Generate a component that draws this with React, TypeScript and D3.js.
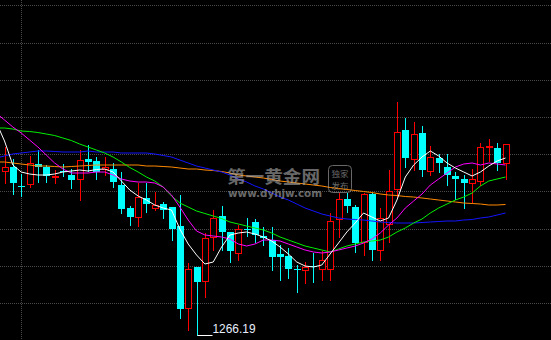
import React from "react";
import * as d3 from "d3";

// ---- data ----
const opens = [1282.59,1282.99,1281.09,1281.29,1283.29,1282.99,1281.99,1282.59,1282.19,1281.79,
1283.79,1283.59,1282.79,1282.79,1281.19,1278.89,1277.99,1279.89,1278.89,1279.29,
1278.99,1277.09,1268.89,1272.99,1271.59,1275.99,1278.09,1276.49,1274.39,1276.79,
1277.49,1276.09,1275.69,1274.29,1274.09,1272.79,1272.69,1273.09,1272.79,1272.79,
1277.79,1279.79,1278.99,1275.49,1280.29,1274.69,1277.29,1280.79,1286.69,1283.79,
1286.39,1282.59,1283.89,1282.99,1282.09,1281.79,1281.39,1281.59,1284.99,1284.89,
1283.39];
const highs = [1284.99,1283.79,1282.29,1284.09,1284.69,1283.19,1282.69,1283.29,1282.79,1284.69,
1285.19,1283.99,1283.99,1283.39,1282.49,1279.09,1281.39,1281.39,1280.49,1279.49,
1278.99,1280.19,1273.39,1272.99,1276.39,1278.69,1279.09,1276.49,1277.19,1277.89,
1277.79,1276.99,1276.99,1275.19,1274.89,1273.19,1273.49,1274.39,1274.59,1278.39,
1280.39,1280.39,1279.19,1280.39,1280.39,1278.89,1282.69,1289.49,1287.89,1287.49,
1287.09,1285.09,1284.29,1284.29,1282.49,1282.19,1282.79,1285.39,1285.79,1285.39,
1285.19];
const lows = [1281.39,1280.29,1280.09,1280.99,1281.49,1281.49,1281.39,1282.09,1280.89,1279.69,
1282.59,1281.79,1282.19,1280.99,1278.39,1277.19,1277.09,1278.49,1278.69,1277.89,
1275.69,1267.89,1266.69,1266.19,1269.99,1274.69,1274.69,1273.49,1273.69,1276.09,
1275.49,1275.19,1272.69,1271.69,1271.89,1270.49,1271.39,1271.49,1271.69,1271.69,
1275.99,1278.49,1274.49,1274.19,1273.69,1273.69,1275.49,1279.99,1282.99,1282.69,
1282.09,1282.19,1282.49,1281.19,1279.79,1278.89,1279.49,1281.19,1283.59,1282.69,
1281.79];
const closes = [1282.99,1281.39,1280.99,1283.39,1282.99,1282.09,1282.09,1282.49,1281.69,1283.69,
1283.49,1282.49,1282.99,1281.49,1278.79,1277.99,1279.99,1279.29,1279.19,1278.69,
1276.79,1268.79,1272.79,1271.49,1275.89,1277.89,1276.49,1274.59,1276.79,1276.69,
1276.19,1275.89,1273.99,1273.99,1272.79,1272.69,1272.99,1272.99,1273.69,1277.59,
1279.79,1279.09,1275.39,1280.29,1274.69,1277.89,1280.59,1286.49,1283.89,1286.29,
1282.69,1283.99,1283.39,1282.19,1281.79,1281.39,1281.79,1284.99,1285.09,1283.39,
1285.29];

// moving averages, first value belongs to candle index -1
const maStart = -1;
const maWhite = [1287.49,1285.59,1283.19,1282.49,1282.29,1282.19,1282.19,1282.29,1282.49,1282.59,1282.69,
1282.59,1282.74,1282.79,1282.49,1281.59,1280.69,1280.09,1279.69,1279.19,1278.89,
1278.69,1276.79,1275.29,1274.19,1273.29,1273.49,1274.99,1276.19,1276.39,1276.49,
1276.29,1275.99,1275.59,1274.99,1274.29,1273.49,1273.09,1272.99,1273.19,1274.29,
1275.39,1276.49,1277.39,1278.39,1277.99,1277.59,1277.89,1279.69,1281.99,1283.19,
1283.99,1284.59,1284.09,1283.39,1282.89,1282.49,1282.09,1282.49,1283.09,1283.59,
1283.89];
const maMagenta = [1288.39,1287.69,1286.99,1286.39,1285.69,1284.99,1284.19,1283.39,1282.79,1282.39,1282.39,
1282.39,1282.49,1282.49,1282.19,1281.79,1281.59,1281.49,1281.49,1281.39,1280.99,
1280.19,1278.99,1277.69,1276.59,1276.19,1276.09,1275.99,1275.79,1275.29,1275.09,
1275.29,1275.69,1275.69,1275.59,1275.29,1274.99,1274.69,1274.49,1274.39,1274.49,
1274.69,1274.89,1275.09,1275.39,1275.79,1276.39,1277.19,1277.89,1278.89,1279.59,
1280.29,1281.19,1281.79,1282.39,1282.99,1283.29,1283.39,1283.19,1283.39,1283.29,
1283.19];
const maGreen = [1286.89,1286.89,1286.79,1286.59,1286.54,1286.44,1286.29,1286.14,1285.89,1285.64,1285.29,
1284.99,1284.69,1284.39,1283.99,1283.49,1282.94,1282.49,1281.99,1281.59,1280.99,
1280.09,1279.39,1278.99,1278.59,1278.34,1278.09,1277.84,1277.49,1277.29,1277.09,
1276.89,1276.69,1276.39,1275.99,1275.69,1275.39,1275.09,1274.89,1274.69,1274.49,
1274.79,1275.09,1275.29,1275.49,1275.59,1275.69,1275.99,1276.49,1276.89,1277.39,
1277.79,1278.39,1278.89,1279.29,1279.69,1279.99,1280.39,1281.09,1281.59,1281.79,
1281.99];
const maBlue = [1283.89,1284.09,1284.29,1284.39,1284.49,1284.59,1284.59,1284.54,1284.49,1284.49,1284.49,
1284.59,1284.49,1284.49,1284.49,1284.39,1284.39,1284.39,1284.39,1284.29,1284.14,
1283.99,1283.69,1283.39,1283.09,1282.89,1282.69,1282.49,1282.19,1281.79,1281.49,
1281.09,1280.79,1280.39,1279.99,1279.69,1279.29,1278.89,1278.59,1278.29,1278.09,
1277.89,1277.79,1277.74,1277.69,1277.59,1277.49,1277.44,1277.39,1277.39,1277.39,
1277.44,1277.49,1277.54,1277.59,1277.59,1277.69,1277.74,1277.89,1277.99,1278.19,
1278.39];
const maOrange = [1283.49,1283.49,1283.39,1283.29,1283.19,1283.09,1283.09,1283.04,1282.99,1283.04,1283.09,
1283.14,1283.19,1283.19,1283.19,1283.19,1283.19,1283.19,1283.09,1283.09,1283.04,
1282.99,1282.89,1282.79,1282.79,1282.69,1282.64,1282.54,1282.39,1282.19,1282.09,
1281.99,1281.89,1281.74,1281.59,1281.49,1281.39,1281.29,1281.19,1281.09,1280.94,
1280.84,1280.74,1280.64,1280.54,1280.44,1280.29,1280.19,1280.14,1280.04,1279.99,
1279.89,1279.79,1279.69,1279.59,1279.49,1279.39,1279.34,1279.29,1279.19,1279.19,
1279.24];

const lowLabel = "1266.19";
const watermarkMain = "第一黄金网";
const watermarkUrl = "www.dyhjw.com";
const watermarkBadge = ["独家", "发布"];
const separatorIndex = 2;

const W = 551;
const H = 340;
const UP = "#ff0000";
const DOWN = "#00ffff";

export default function App() {
  const n = closes.length;
  const x = d3.scaleLinear().domain([0, n - 1]).range([4.5, 505.5]);
  const y = d3.scaleLinear().domain([1266.19, 1296.19]).range([335, 35]);

  const mkLine = (vals: number[]) =>
    d3
      .line<number>()
      .x((_, i) => x(i + maStart))
      .y((v) => y(v))(vals) as string;

  const lines = [
    { vals: maOrange, color: "#ff8a00" },
    { vals: maBlue, color: "#1414ff" },
    { vals: maGreen, color: "#00f000" },
    { vals: maMagenta, color: "#ff00ff" },
    { vals: maWhite, color: "#ffffff" },
  ];

  const gridY = d3.range(9).map((k) => Math.round(5.3 + 37.2 * k) + 0.5);
  const sepX = Math.round(x(separatorIndex)) + 0.5;

  const lowIdx = d3.minIndex(lows);
  const lowX = Math.round(x(lowIdx)) + 0.5;
  const lowY = Math.round(y(lows[lowIdx]));

  return (
    <svg
      width={W}
      height={H}
      style={{ position: "fixed", left: 0, top: 0, background: "#000", display: "block" }}
    >
      <rect x={0} y={0} width={W} height={H} fill="#000" />
      <g stroke="#4a4a4a" strokeWidth={1} strokeDasharray="1 1">
        {gridY.map((gy, k) => (
          <line key={k} x1={0} x2={W} y1={gy} y2={gy} />
        ))}
        <line x1={sepX} x2={sepX} y1={0} y2={H} />
      </g>

      <g>
        {closes.map((c, i) => {
          const o = opens[i];
          const up = c >= o;
          const cx = Math.round(x(i));
          const top = Math.round(y(Math.max(o, c)));
          const bot = Math.round(y(Math.min(o, c)));
          const hy = Math.round(y(highs[i]));
          const ly = Math.round(y(lows[i]));
          const col = up ? UP : DOWN;
          if (up) {
            return (
              <g key={i} stroke={col} strokeWidth={1}>
                {hy < top && <line x1={cx + 0.5} x2={cx + 0.5} y1={hy} y2={top} />}
                {ly > bot && <line x1={cx + 0.5} x2={cx + 0.5} y1={bot + 1} y2={ly + 1} />}
                <rect
                  x={cx - 2.5}
                  y={top + 0.5}
                  width={6}
                  height={Math.max(bot - top, 1)}
                  fill="#000"
                />
              </g>
            );
          }
          return (
            <g key={i}>
              <line
                x1={cx + 0.5}
                x2={cx + 0.5}
                y1={hy}
                y2={ly + 1}
                stroke={col}
                strokeWidth={1}
              />
              <rect x={cx - 3} y={top} width={7} height={Math.max(bot - top, 1)} fill={col} />
            </g>
          );
        })}
      </g>

      <g fill="none" strokeWidth={1}>
        {lines.map((l, k) => (
          <path key={k} d={mkLine(l.vals)} stroke={l.color} />
        ))}
      </g>

      {/* low marker */}
      <line x1={lowX} x2={lowX + 15} y1={lowY + 0.5} y2={lowY + 0.5} stroke="#ffffff" strokeWidth={1} />
      <text
        x={lowX + 15}
        y={lowY - 2.5}
        fill="#e8efff"
        fontFamily="'Liberation Sans', Arial, sans-serif"
        fontSize={13}
        textLength={43}
        lengthAdjust="spacingAndGlyphs"
      >
        {lowLabel}
      </text>

      {/* watermark */}
      <g fill="#a8a8a8" opacity={0.62}>
        <text
          x={227}
          y={183}
          fontFamily="'Noto Sans CJK SC', sans-serif"
          fontWeight={700}
          fontSize={17}
          textLength={93}
          lengthAdjust="spacingAndGlyphs"
        >
          {watermarkMain}
        </text>
        <text
          x={228}
          y={196.5}
          fontFamily="'DejaVu Sans', sans-serif"
          fontWeight={700}
          fontSize={10.5}
          textLength={94}
          lengthAdjust="spacingAndGlyphs"
        >
          {watermarkUrl}
        </text>
        <rect x={328.5} y={165.5} width={23} height={27} rx={4} fill="none" stroke="#a8a8a8" strokeWidth={1} />
        <text
          x={340}
          y={176.5}
          textAnchor="middle"
          fontFamily="'Noto Sans CJK SC', sans-serif"
          fontSize={8.5}
        >
          {watermarkBadge[0]}
        </text>
        <text
          x={340}
          y={189}
          textAnchor="middle"
          fontFamily="'Noto Sans CJK SC', sans-serif"
          fontSize={8.5}
        >
          {watermarkBadge[1]}
        </text>
      </g>
    </svg>
  );
}
